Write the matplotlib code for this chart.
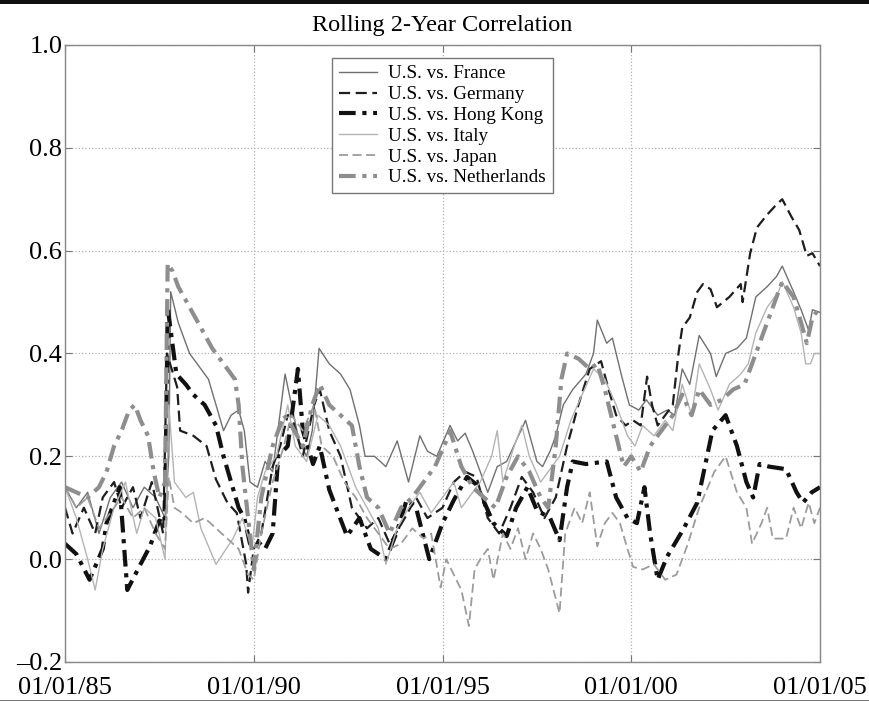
"""Rolling 2-year correlation of U.S. equities vs. six foreign markets."""
import matplotlib
matplotlib.use('Agg')
import matplotlib.pyplot as plt
from matplotlib.patches import Rectangle

plt.rcParams['font.family'] = ['Liberation Serif', 'DejaVu Serif']

# values (decimal year, correlation)
france_t = [1985.0, 1985.3, 1985.6, 1985.9, 1986.2, 1986.5, 1986.8, 1987.1, 1987.4, 1987.65,
            1987.75, 1987.8, 1988.0, 1988.3, 1988.6, 1988.8, 1989.0, 1989.2, 1989.4, 1989.6,
            1989.75, 1989.9, 1990.1, 1990.3, 1990.5, 1990.83, 1991.0, 1991.2, 1991.4, 1991.55,
            1991.73, 1992.0, 1992.3, 1992.55, 1992.8, 1992.95, 1993.2, 1993.5, 1993.8, 1994.1,
            1994.4, 1994.6, 1994.85, 1995.2, 1995.4, 1995.6, 1995.8, 1996.0, 1996.2, 1996.45,
            1996.7, 1996.95, 1997.2, 1997.35, 1997.5, 1997.65, 1997.85, 1998.0, 1998.2, 1998.45,
            1998.8, 1999.0, 1999.1, 1999.35, 1999.5, 1999.75, 1999.95, 2000.2, 2000.4, 2000.7,
            2000.95, 2001.15, 2001.35, 2001.55, 2001.8, 2002.1, 2002.25, 2002.5, 2002.8, 2003.05,
            2003.3, 2003.6, 2003.85, 2004.0, 2004.3, 2004.5, 2004.7, 2004.8, 2005.0]
france_v = [0.14, 0.10, 0.13, 0.05, 0.12, 0.15, 0.10, 0.14, 0.12, 0.08,
            0.20, 0.52, 0.46, 0.40, 0.37, 0.35, 0.30, 0.25, 0.28, 0.29,
            0.25, 0.15, 0.14, 0.19, 0.17, 0.36, 0.30, 0.23, 0.20, 0.25,
            0.41, 0.38, 0.36, 0.33, 0.26, 0.20, 0.20, 0.18, 0.23, 0.15,
            0.24, 0.21, 0.20, 0.26, 0.23, 0.245, 0.21, 0.17, 0.13, 0.18,
            0.19, 0.23, 0.27, 0.23, 0.19, 0.18, 0.21, 0.24, 0.30, 0.33,
            0.36, 0.40, 0.465, 0.42, 0.43, 0.355, 0.30, 0.29, 0.31, 0.28,
            0.29, 0.28, 0.37, 0.34, 0.435, 0.40, 0.355, 0.40, 0.41, 0.43,
            0.51, 0.53, 0.55, 0.57, 0.52, 0.485, 0.445, 0.485, 0.48]

germany_t = [1985.0, 1985.2, 1985.5, 1985.8, 1986.0, 1986.3, 1986.5, 1986.8, 1987.0, 1987.3,
             1987.6, 1987.7, 1987.97, 1988.05, 1988.4, 1988.75, 1989.0, 1989.3, 1989.55, 1989.8,
             1989.85, 1990.0, 1990.2, 1990.5, 1990.7, 1990.9, 1991.0, 1991.3, 1991.6, 1991.75,
             1992.0, 1992.3, 1992.6, 1993.0, 1993.3, 1993.6, 1994.0, 1994.3, 1994.6, 1995.0,
             1995.3, 1995.6, 1995.9, 1996.2, 1996.5, 1996.8, 1997.1, 1997.4, 1997.7, 1998.0,
             1998.3, 1998.6, 1998.9, 1999.2, 1999.4, 1999.6, 1999.85, 2000.05, 2000.25, 2000.42,
             2000.55, 2000.7, 2000.9, 2001.1, 2001.25, 2001.35, 2001.55, 2001.75, 2001.9, 2002.1,
             2002.27, 2002.6, 2002.9, 2002.95, 2003.15, 2003.33, 2003.6, 2003.85, 2004.0, 2004.25,
             2004.45, 2004.65, 2004.8, 2005.0]
germany_v = [0.10, 0.05, 0.10, 0.05, 0.12, 0.15, 0.10, 0.14, 0.08, 0.15,
             0.05, 0.40, 0.335, 0.25, 0.24, 0.22, 0.155, 0.11, 0.09, -0.01,
             -0.065, 0.02, 0.05, 0.18, 0.22, 0.28, 0.28, 0.20, 0.30, 0.33,
             0.25, 0.20, 0.10, 0.06, 0.08, 0.03, 0.08, 0.12, 0.08, 0.10,
             0.15, 0.17, 0.16, 0.08, 0.05, 0.10, 0.16, 0.13, 0.08, 0.12,
             0.22, 0.30, 0.37, 0.385, 0.33, 0.28, 0.26, 0.27, 0.26, 0.355,
             0.30, 0.26, 0.28, 0.30, 0.40, 0.45, 0.47, 0.52, 0.535, 0.525,
             0.49, 0.51, 0.535, 0.50, 0.595, 0.645, 0.67, 0.69, 0.70, 0.665,
             0.64, 0.59, 0.595, 0.57]

hongkong_t = [1985.0, 1985.3, 1985.65, 1986.0, 1986.1, 1986.45, 1986.65, 1987.0, 1987.25, 1987.5,
              1987.65, 1987.72, 1987.95, 1988.2, 1988.4, 1988.7, 1989.0, 1989.2, 1989.4, 1989.6,
              1989.75, 1989.9, 1990.1, 1990.3, 1990.5, 1990.65, 1990.9, 1991.17, 1991.3, 1991.57,
              1991.75, 1992.0, 1992.47, 1992.8, 1993.1, 1993.5, 1993.8, 1994.05, 1994.3, 1994.65,
              1995.0, 1995.3, 1995.65, 1995.9, 1996.35, 1996.7, 1996.95, 1997.25, 1997.5, 1997.85,
              1998.1, 1998.3, 1998.45, 1998.8, 1999.35, 1999.6, 1999.9, 2000.15, 2000.35, 2000.5,
              2000.7, 2000.95, 2001.37, 2001.75, 2002.15, 2002.5, 2002.8, 2003.05, 2003.23, 2003.4,
              2003.65, 2004.1, 2004.38, 2004.55, 2004.78, 2005.0]
hongkong_v = [0.03, 0.01, -0.04, 0.02, 0.07, 0.14, -0.06, -0.01, 0.025, 0.075,
              0.07, 0.49, 0.36, 0.34, 0.32, 0.30, 0.26, 0.20, 0.15, 0.10,
              0.08, 0.03, 0.035, 0.02, 0.05, 0.20, 0.22, 0.37, 0.25, 0.185,
              0.22, 0.135, 0.045, 0.08, 0.02, 0.0, 0.055, 0.115, 0.10, 0.0,
              0.07, 0.115, 0.16, 0.145, 0.07, 0.045, 0.10, 0.14, 0.095, 0.08,
              0.037, 0.14, 0.19, 0.185, 0.19, 0.12, 0.08, 0.07, 0.14, 0.05,
              -0.04, 0.005, 0.057, 0.11, 0.25, 0.28, 0.22, 0.15, 0.12, 0.185,
              0.18, 0.175, 0.13, 0.11, 0.13, 0.14]

italy_t = [1985.0, 1985.3, 1985.6, 1985.8, 1986.0, 1986.3, 1986.6, 1986.9, 1987.1, 1987.4,
           1987.65, 1987.75, 1987.9, 1988.2, 1988.4, 1988.6, 1989.0, 1989.45, 1989.7, 1989.95,
           1990.1, 1990.3, 1990.6, 1990.9, 1991.1, 1991.4, 1991.7, 1992.0, 1992.3, 1992.7,
           1993.0, 1993.3, 1993.5, 1993.8, 1994.1, 1994.4, 1994.7, 1995.0, 1995.3, 1995.5,
           1995.7, 1996.0, 1996.3, 1996.45, 1996.6, 1996.9, 1997.1, 1997.3, 1997.6, 1997.9,
           1998.1, 1998.4, 1998.7, 1999.0, 1999.3, 1999.6, 1999.9, 2000.1, 2000.3, 2000.6,
           2000.9, 2001.1, 2001.35, 2001.6, 2001.8, 2002.1, 2002.3, 2002.6, 2002.9, 2003.1,
           2003.3, 2003.6, 2003.9, 2004.0, 2004.3, 2004.5, 2004.62, 2004.75, 2004.85, 2005.0]
italy_v = [0.14, 0.08, 0.0, -0.06, 0.02, 0.10, 0.15, 0.05, 0.10, 0.08,
           0.0, 0.30, 0.15, 0.12, 0.13, 0.06, -0.01, 0.04, 0.08, 0.02,
           0.12, 0.17, 0.20, 0.30, 0.22, 0.19, 0.28, 0.26, 0.22, 0.14,
           0.10, 0.06, -0.01, 0.06, 0.10, 0.13, 0.09, 0.12, 0.15, 0.10,
           0.12, 0.15, 0.20, 0.25, 0.15, 0.22, 0.26, 0.20, 0.15, 0.18,
           0.20, 0.27, 0.32, 0.37, 0.35, 0.30, 0.24, 0.22, 0.26, 0.24,
           0.27, 0.25, 0.34, 0.28, 0.38, 0.33, 0.29, 0.34, 0.36, 0.38,
           0.44, 0.49, 0.52, 0.54, 0.49, 0.44, 0.38, 0.38, 0.40, 0.40]

japan_t = [1985.0, 1985.3, 1985.6, 1985.9, 1986.2, 1986.5, 1986.8, 1987.1, 1987.4, 1987.65,
           1987.75, 1987.9, 1988.1, 1988.4, 1988.7, 1989.0, 1989.3, 1989.6, 1989.85, 1990.0,
           1990.2, 1990.5, 1990.8, 1991.0, 1991.3, 1991.6, 1991.8, 1992.1, 1992.4, 1992.7,
           1993.0, 1993.3, 1993.6, 1993.9, 1994.2, 1994.5, 1994.7, 1994.95, 1995.1, 1995.3,
           1995.5, 1995.7, 1995.85, 1996.0, 1996.2, 1996.35, 1996.6, 1996.8, 1997.0, 1997.2,
           1997.4, 1997.6, 1997.8, 1998.1, 1998.25, 1998.5, 1998.7, 1998.9, 1999.1, 1999.3,
           1999.5, 1999.7, 1999.9, 2000.05, 2000.3, 2000.6, 2000.9, 2001.2, 2001.5, 2001.8,
           2002.2, 2002.5, 2002.8, 2003.05, 2003.2, 2003.45, 2003.6, 2003.75, 2004.1, 2004.3,
           2004.5, 2004.7, 2004.85, 2005.0]
japan_v = [0.14, 0.10, 0.12, 0.06, 0.09, 0.12, 0.08, 0.10, 0.05, 0.02,
           0.16, 0.10, 0.09, 0.07, 0.08, 0.06, 0.04, 0.02, -0.03, -0.04,
           0.05, 0.15, 0.22, 0.28, 0.25, 0.30, 0.22, 0.20, 0.15, 0.12,
           0.08, 0.05, 0.02, 0.03, 0.06, 0.04, 0.05, -0.055, 0.0, -0.03,
           -0.06, -0.13, -0.02, 0.0, 0.02, -0.04, 0.05, 0.02, 0.06, 0.0,
           0.05, 0.02, -0.02, -0.105, 0.05, 0.10, 0.07, 0.13, 0.025, 0.07,
           0.09, 0.07, 0.02, -0.015, -0.02, -0.01, -0.04, -0.03, 0.03, 0.10,
           0.17, 0.20, 0.13, 0.10, 0.03, 0.07, 0.10, 0.04, 0.04, 0.10,
           0.06, 0.11, 0.07, 0.10]

netherlands_t = [1985.0, 1985.3, 1985.6, 1985.9, 1986.1, 1986.3, 1986.5, 1986.7, 1986.85, 1987.0,
                 1987.2, 1987.35, 1987.5, 1987.65, 1987.72, 1987.85, 1988.0, 1988.3, 1988.6, 1988.9,
                 1989.1, 1989.3, 1989.5, 1989.6, 1989.7, 1989.85, 1990.0, 1990.2, 1990.5, 1990.8,
                 1991.0, 1991.3, 1991.55, 1991.75, 1992.0, 1992.3, 1992.6, 1992.8, 1993.0, 1993.3,
                 1993.6, 1993.9, 1994.2, 1994.5, 1994.8, 1995.1, 1995.2, 1995.5, 1995.8, 1996.1,
                 1996.4, 1996.7, 1997.0, 1997.3, 1997.6, 1997.8, 1998.0, 1998.15, 1998.3, 1998.6,
                 1998.9, 1999.1, 1999.3, 1999.6, 1999.8, 2000.0, 2000.25, 2000.5, 2000.8, 2001.1,
                 2001.35, 2001.6, 2001.8, 2002.1, 2002.4, 2002.7, 2003.0, 2003.3, 2003.6, 2003.85,
                 2004.0, 2004.3, 2004.5, 2004.65, 2004.8, 2005.0]
netherlands_v = [0.14, 0.13, 0.12, 0.14, 0.17, 0.22, 0.25, 0.29, 0.30, 0.27,
                 0.24, 0.17, 0.12, 0.15, 0.575, 0.56, 0.53, 0.49, 0.45, 0.41,
                 0.39, 0.37, 0.35, 0.30, 0.18, 0.08, -0.02, 0.12, 0.22, 0.28,
                 0.26, 0.22, 0.30, 0.34, 0.30, 0.28, 0.26, 0.18, 0.12, 0.10,
                 0.05, 0.10, 0.12, 0.15, 0.18, 0.23, 0.25, 0.18, 0.14, 0.12,
                 0.10, 0.16, 0.20, 0.17, 0.12, 0.10, 0.22, 0.35, 0.40, 0.39,
                 0.37, 0.38, 0.33, 0.24, 0.18, 0.20, 0.17, 0.22, 0.25, 0.28,
                 0.32, 0.28, 0.33, 0.30, 0.31, 0.33, 0.34, 0.40, 0.46, 0.51,
                 0.54, 0.51, 0.46, 0.42, 0.47, 0.49]

xticks = [1985, 1990, 1995, 2000, 2005]
xtick_labels = ['01/01/85', '01/01/90', '01/01/95', '01/01/00', '01/01/05']
yticks = [-0.2, 0.0, 0.2, 0.4, 0.6, 0.8, 1.0]

fig = plt.figure(figsize=(8.69, 7.12), dpi=100)
ax = fig.add_axes([65 / 869, 1 - 662 / 712, 755 / 869, 617 / 712])

ax.plot(france_t, france_v, color='#707070', lw=1.0, label='U.S. vs. France')
ax.plot(germany_t, germany_v, color='#1e1e1e', lw=1.6, dashes=(5, 2.5), label='U.S. vs. Germany')
ax.plot(hongkong_t, hongkong_v, color='#111111', lw=3.0, dashes=(4, 1.6, 1, 1.6),
        label='U.S. vs. Hong Kong')
ax.plot(italy_t, italy_v, color='#b4b4b4', lw=1.0, label='U.S. vs. Italy')
ax.plot(japan_t, japan_v, color='#9c9c9c', lw=1.3, dashes=(5, 2.5), label='U.S. vs. Japan')
ax.plot(netherlands_t, netherlands_v, color='#8e8e8e', lw=3.0, dashes=(4, 1.6, 1, 1.6),
        label='U.S. vs. Netherlands')

ax.set_xlim(1985, 2005)
ax.set_ylim(-0.2, 1.0)
ax.set_xticks(xticks)
ax.set_xticklabels(xtick_labels)
ax.set_yticks(yticks)
ax.set_yticklabels([f'{v:.1f}'.replace('-', '\u2013') for v in yticks])
ax.grid(True, ls=':', color='#b0b0b0', lw=0.9)
ax.tick_params(direction='in', length=5, color='#777777', top=True, right=True,
               labelsize=19)
ax.tick_params(axis='y', pad=2)
ax.tick_params(axis='x', pad=11)
for s in ax.spines.values():
    s.set_color('#888888')
    s.set_linewidth(1.0)

ax.set_title('Rolling 2-Year Correlation', fontsize=17.5, pad=10)

leg = ax.legend(loc='upper center', fontsize=13.75, frameon=True, fancybox=False,
                edgecolor='#777777', framealpha=1, handlelength=2.0, handletextpad=0.6,
                labelspacing=0.18, borderpad=0.35, borderaxespad=0.7)
leg.get_frame().set_linewidth(1.0)

# rule lines of the book page
fig.add_artist(Rectangle((0, 1 - 4 / 712), 1, 4 / 712, transform=fig.transFigure,
                         color='#111111', lw=0))
fig.add_artist(Rectangle((0, 1 - 701 / 712), 1, 1.5 / 712, transform=fig.transFigure,
                         color='#777777', lw=0))

fig.savefig('out.png', dpi=100)
